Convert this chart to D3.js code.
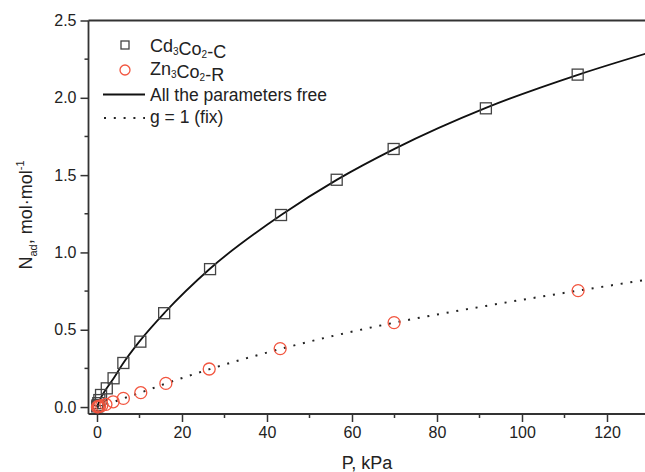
<!DOCTYPE html>
<html>
<head>
<meta charset="utf-8">
<script src="https://cdn.jsdelivr.net/npm/d3@7"></script>
<style>
  body { margin: 0; background: #fff; }
  text { font-family: "Liberation Sans", Arial, sans-serif; fill: #222; }
</style>
</head>
<body>
<div id="graph"></div>
<script>
// measured points, Cd3Co2-C (squares)
const cdP = [0.05, 0.15, 0.3, 0.55, 0.95, 2.3, 3.9, 6.2, 10.2, 15.8, 26.6, 43.3, 56.4, 69.8, 91.5, 113.1];
const cdN = [0.004, 0.012, 0.025, 0.045, 0.078, 0.121, 0.186, 0.285, 0.423, 0.607, 0.892, 1.242, 1.470, 1.669, 1.932, 2.150];

// measured points, Zn3Co2-R (circles)
const znP = [0.1, 0.3, 0.6, 1.1, 2.1, 3.8, 6.2, 10.3, 16.2, 26.4, 43.1, 69.9, 113.2];
const znN = [0.001, 0.003, 0.005, 0.009, 0.017, 0.034, 0.056, 0.093, 0.153, 0.246, 0.378, 0.546, 0.753];

// fit curves
const freeP = [0, 1, 2, 4, 6, 10, 16, 26.5, 43.5, 56.5, 70, 91.5, 113.5, 130];
const freeN = [0, 0.065, 0.11, 0.19, 0.277, 0.425, 0.613, 0.893, 1.245, 1.471, 1.67, 1.935, 2.152, 2.293];

const fixP = [0, 2, 4, 6, 10, 16, 26.5, 43.5, 70, 91.5, 113.5, 130];
const fixN = [0, 0.017, 0.034, 0.054, 0.091, 0.15, 0.245, 0.378, 0.546, 0.654, 0.754, 0.826];

const xTicks = [0, 20, 40, 60, 80, 100, 120];
const xMinor = [10, 30, 50, 70, 90, 110, 130];
const yTicks = [0, 0.5, 1.0, 1.5, 2.0, 2.5];
const yMinor = [0.25, 0.75, 1.25, 1.75, 2.25];

const W = 645, H = 472;
const plotLeft = 88.5, plotTop = 20.5, plotBottom = 414;

const svg = d3.select("#graph").append("svg")
    .attr("width", W)
    .attr("height", H);

var x = d3.scaleLinear().domain([-2, 130]).range([plotLeft, plotLeft + 132 * 4.25]);
var y = d3.scaleLinear().domain([-0.045, 2.5]).range([plotBottom, plotTop]);

const axisColor = "#333";

// frame: top line
svg.append("line")
  .attr("x1", plotLeft).attr("x2", W + 5)
  .attr("y1", plotTop).attr("y2", plotTop)
  .attr("stroke", axisColor).attr("stroke-width", 2);

// x axis
var xAxis = svg.append("g")
  .attr("transform", "translate(0," + plotBottom + ")")
  .call(d3.axisBottom(x).tickValues(xTicks).tickSizeOuter(0).tickSize(8).tickPadding(5).tickFormat(d3.format("d")));
xAxis.append("g").selectAll("line")
  .data(xMinor).enter().append("line")
  .attr("x1", d => x(d)).attr("x2", d => x(d))
  .attr("y1", 0).attr("y2", 4)
  .attr("stroke", axisColor).attr("stroke-width", 1.5);

// y axis
var yAxis = svg.append("g")
  .attr("transform", "translate(" + plotLeft + ",0)")
  .call(d3.axisLeft(y).tickValues(yTicks).tickSizeOuter(0).tickSize(8).tickPadding(4).tickFormat(d3.format(".1f")));
yAxis.append("g").selectAll("line")
  .data(yMinor).enter().append("line")
  .attr("x1", 0).attr("x2", -4)
  .attr("y1", d => y(d)).attr("y2", d => y(d))
  .attr("stroke", axisColor).attr("stroke-width", 1.5);

[xAxis, yAxis].forEach(function(ax) {
  ax.select(".domain").attr("stroke", axisColor).attr("stroke-width", 1.8);
  ax.selectAll(".tick line").attr("stroke", axisColor).attr("stroke-width", 1.5);
  ax.selectAll(".tick text")
    .attr("font-size", "16px")
    .attr("font-family", "'Liberation Sans', Arial, sans-serif")
    .attr("fill", "#222");
});
// extend x axis line to the right edge
xAxis.select(".domain").attr("d", "M" + plotLeft + ",0H" + (W + 5));
yAxis.select(".domain").attr("d", "M0," + plotTop + "V" + plotBottom);

// clip for the plot area
svg.append("clipPath").attr("id", "plotclip")
  .append("rect").attr("x", plotLeft).attr("y", plotTop).attr("width", W - plotLeft + 10).attr("height", plotBottom - plotTop);

var plot = svg.append("g").attr("clip-path", "url(#plotclip)");

var line = d3.line()
  .x(d => x(d[0]))
  .y(d => y(d[1]))
  .curve(d3.curveMonotoneX);

plot.append("path")
  .datum(d3.zip(freeP, freeN))
  .attr("d", line)
  .attr("fill", "none")
  .attr("stroke", "#111")
  .attr("stroke-width", 1.8);

plot.append("path")
  .datum(d3.zip(fixP, fixN))
  .attr("d", line)
  .attr("fill", "none")
  .attr("stroke", "#222")
  .attr("stroke-width", 2)
  .attr("stroke-dasharray", "2 7.8");

// squares
plot.selectAll(".sq")
  .data(d3.zip(cdP, cdN))
  .enter().append("rect")
  .attr("class", "sq")
  .attr("x", d => x(d[0]) - 5.5)
  .attr("y", d => y(d[1]) - 5.5)
  .attr("width", 11)
  .attr("height", 11)
  .attr("fill", "none")
  .attr("stroke", "#444")
  .attr("stroke-width", 1.3);

// circles
plot.selectAll(".ci")
  .data(d3.zip(znP, znN))
  .enter().append("circle")
  .attr("class", "ci")
  .attr("cx", d => x(d[0]))
  .attr("cy", d => y(d[1]))
  .attr("r", 6)
  .attr("fill", "none")
  .attr("stroke", "#f2553f")
  .attr("stroke-width", 1.3);

// legend
var lg = svg.append("g");
lg.append("rect")
  .attr("x", 121).attr("y", 41).attr("width", 8).attr("height", 8)
  .attr("fill", "none").attr("stroke", "#444").attr("stroke-width", 1.3);
lg.append("circle")
  .attr("cx", 125).attr("cy", 70).attr("r", 5)
  .attr("fill", "none").attr("stroke", "#f2553f").attr("stroke-width", 1.3);
lg.append("line")
  .attr("x1", 103).attr("x2", 145).attr("y1", 94.5).attr("y2", 94.5)
  .attr("stroke", "#111").attr("stroke-width", 1.8);
lg.append("line")
  .attr("x1", 104).attr("x2", 145).attr("y1", 118).attr("y2", 118)
  .attr("stroke", "#222").attr("stroke-width", 2).attr("stroke-dasharray", "2 7.8");

function chem(g, yy, parts, size) {
  var t = g.append("text").attr("x", 150).attr("y", yy).attr("font-size", size + "px");
  parts.forEach(function(p) {
    if (p[1] === "sub") {
      t.append("tspan").attr("font-size", "10px").attr("dy", 3).text(p[0]);
      t.append("tspan").attr("dy", -3).text("");
    } else {
      t.append("tspan").text(p[0]);
    }
  });
  return t;
}
chem(lg, 51.5, [["Cd"], ["3", "sub"], ["Co"], ["2", "sub"], ["-C"]], 18);
chem(lg, 74.5, [["Zn"], ["3", "sub"], ["Co"], ["2", "sub"], ["-R"]], 18);
chem(lg, 100.5, [["All the parameters free"]], 17.5);
chem(lg, 123, [["g = 1 (fix)"]], 17.5);

// axis titles
svg.append("text")
  .attr("x", 367).attr("y", 469)
  .attr("text-anchor", "middle")
  .attr("font-size", "18px")
  .text("P, kPa");

var yl = svg.append("text")
  .attr("transform", "translate(32,215) rotate(-90)")
  .attr("text-anchor", "middle")
  .attr("font-size", "18px");
yl.append("tspan").text("N");
yl.append("tspan").attr("font-size", "11px").attr("dy", 5).text("ad");
yl.append("tspan").attr("dy", -5).text(", mol\u00b7mol");
yl.append("tspan").attr("font-size", "11px").attr("dy", -8).text("-1");
</script>
</body>
</html>
